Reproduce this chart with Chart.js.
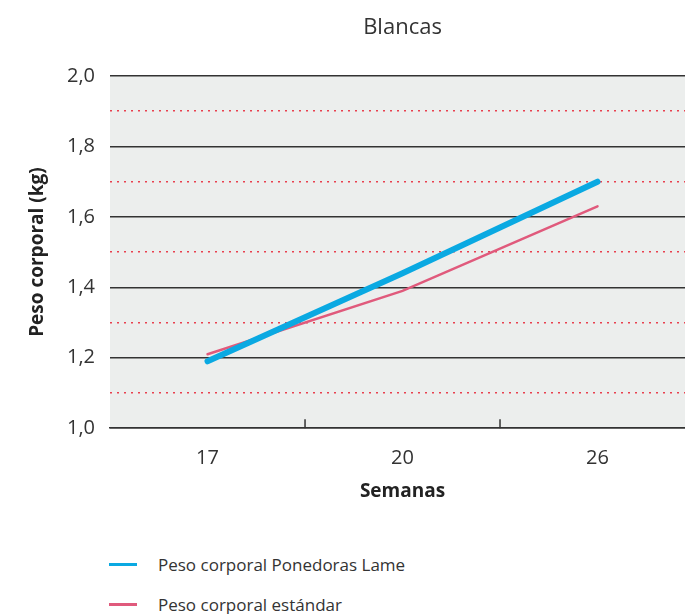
<!DOCTYPE html>
<html>
<head>
<meta charset="utf-8">
<script src="https://cdn.jsdelivr.net/npm/chart.js@4.4.1/dist/chart.umd.min.js"></script>
<style>
  html, body { margin: 0; padding: 0; background: #fff; overflow: hidden; }
  #wrap { position: relative; width: 695px; height: 614px; }
  canvas { display: block; }
  #legend { position: absolute; left: 109px; top: 550px; font-family: "Open Sans", sans-serif; font-size: 17px; color: #333; }
  .item { display: flex; align-items: center; height: 28px; margin-bottom: 12px; }
  .swatch { width: 28px; height: 3px; margin-right: 21px; }
</style>
</head>
<body>
<div id="wrap">
  <canvas id="chart" width="695" height="503"></canvas>
  <div id="legend"></div>
</div>
<script>
// chart data
const weeks = ['17', '20', '26'];
const lameWeight = [1.19, 1.44, 1.70];
const standardWeight = [1.21, 1.39, 1.63];
const seriesNames = ['Peso corporal Ponedoras Lame', 'Peso corporal estándar'];
const seriesColors = ['#0aa9e2', '#e05a7c'];

const font = 'Open Sans';
const isMinor = v => Math.round(v * 10) % 2 === 1;

// grey plot background + small inner ticks between categories
const plotDeco = {
    id: 'plotDeco',
    beforeDraw(chart) {
        const { ctx, chartArea: a } = chart;
        ctx.save();
        ctx.fillStyle = '#eceeed';
        ctx.fillRect(a.left, a.top, a.right - a.left, a.bottom - a.top);
        ctx.restore();
    },
    afterDatasetsDraw(chart) {
        const { ctx, chartArea: a } = chart;
        const x = chart.scales.x;
        ctx.save();
        ctx.strokeStyle = '#333';
        ctx.lineWidth = 1.5;
        for (let i = 0; i < weeks.length - 1; i++) {
            const px = (x.getPixelForValue(i) + x.getPixelForValue(i + 1)) / 2;
            ctx.beginPath();
            ctx.moveTo(px, a.bottom - 9);
            ctx.lineTo(px, a.bottom);
            ctx.stroke();
        }
        ctx.restore();
    }
};

const chart = new Chart(document.getElementById('chart'), {
    type: 'line',
    data: {
        labels: weeks,
        datasets: [{
            label: seriesNames[0],
            data: lameWeight,
            borderColor: seriesColors[0],
            borderWidth: 6,
            borderCapStyle: 'round',
            pointRadius: 0,
            tension: 0
        }, {
            label: seriesNames[1],
            data: standardWeight,
            borderColor: seriesColors[1],
            borderWidth: 2.5,
            borderCapStyle: 'round',
            pointRadius: 0,
            tension: 0
        }]
    },
    options: {
        responsive: false,
        animation: false,
        layout: { padding: 0 },
        plugins: { legend: { display: false }, tooltip: { enabled: false } },
        scales: {
            x: {
                type: 'category',
                offset: true,
                grid: { display: false, drawTicks: false },
                border: { display: true, color: '#333', width: 1.5 },
                ticks: { color: '#333', padding: 18, font: { family: font, size: 20 } },
                title: {
                    display: true, text: 'Semanas', color: '#222',
                    font: { family: font, size: 19, weight: 'bold' },
                    padding: { top: -8, bottom: 0 }
                }
            },
            xTop: {
                type: 'category',
                position: 'top',
                offset: true,
                grid: { display: false, drawTicks: false },
                border: { display: false },
                ticks: { display: false },
                title: {
                    display: true, text: 'Blancas', color: '#333',
                    font: { family: font, size: 22 },
                    padding: { top: 15, bottom: 34.6 }
                }
            },
            y: {
                min: 1.0,
                max: 2.0,
                ticks: {
                    stepSize: 0.1,
                    padding: 15,
                    color: '#333',
                    font: { family: font, size: 20 },
                    callback: v => isMinor(v) ? '' : v.toFixed(1).replace('.', ',')
                },
                grid: {
                    drawTicks: false,
                    color: c => isMinor(c.tick.value) ? '#e8404f' : '#333',
                    lineWidth: 1.5
                },
                border: {
                    display: false,
                    dash: c => (c.tick && isMinor(c.tick.value)) ? [2, 5] : []
                },
                title: {
                    display: true, text: 'Peso corporal (kg)', color: '#222',
                    font: { family: font, size: 19, weight: 'bold' },
                    padding: { top: 26.6, bottom: 2.6 }
                }
            }
        }
    },
    plugins: [plotDeco]
});

// legend built from the datasets
const legend = document.getElementById('legend');
chart.data.datasets.forEach(ds => {
    const row = document.createElement('div');
    row.className = 'item';
    const sw = document.createElement('span');
    sw.className = 'swatch';
    sw.style.background = ds.borderColor;
    const txt = document.createElement('span');
    txt.textContent = ds.label;
    row.appendChild(sw);
    row.appendChild(txt);
    legend.appendChild(row);
});
</script>
</body>
</html>
